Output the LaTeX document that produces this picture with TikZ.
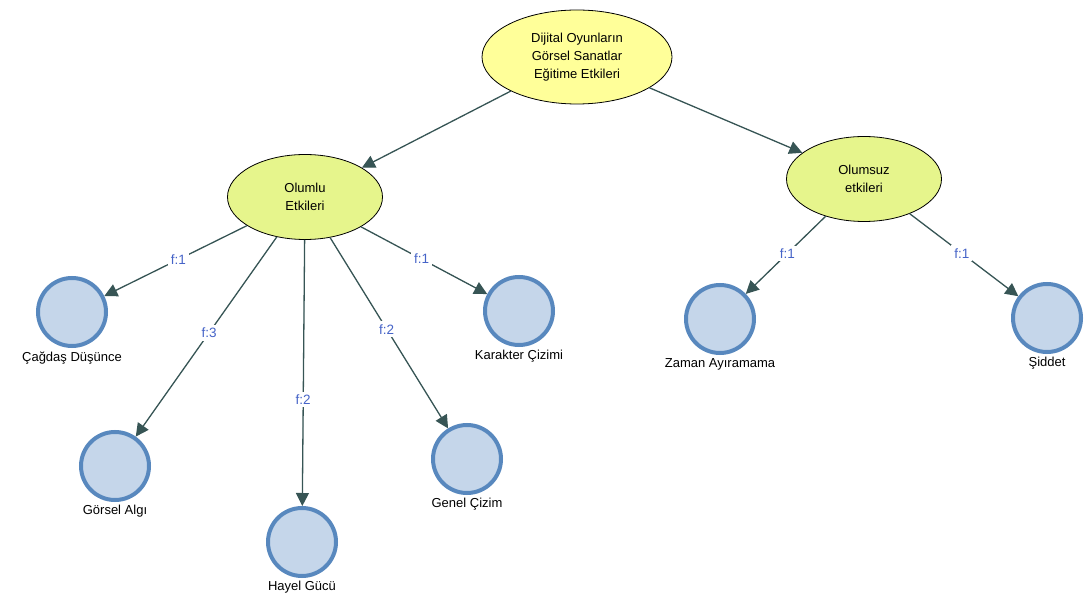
\documentclass[tikz,border=0pt]{standalone}
\usepackage{fontspec}
\setmainfont{Liberation Sans}
\usetikzlibrary{shapes.geometric,arrows.meta}
\definecolor{rootyellow}{RGB}{255,255,153}
\definecolor{subgreen}{RGB}{230,245,140}
\definecolor{leaffill}{RGB}{197,214,234}
\definecolor{leafline}{RGB}{88,136,190}
\definecolor{edgecol}{RGB}{55,85,85}
\definecolor{lblblue}{RGB}{70,100,200}

\begin{document}
\begin{tikzpicture}[x=1pt,y=-1pt,
  rootnode/.style={ellipse,draw,line width=0.8pt,fill=rootyellow,minimum width=190pt,minimum height=94pt,align=center,font=\fontsize{13}{18}\selectfont},
  midnode/.style={ellipse,draw,line width=0.8pt,fill=subgreen,minimum width=155pt,minimum height=85pt,align=center,font=\fontsize{13}{18}\selectfont},
  leaf/.style={circle,draw=leafline,line width=4pt,fill=leaffill,minimum size=68pt},
  every label/.style={font=\fontsize{13}{15}\selectfont},
  arr/.style={-{Triangle[length=13pt,width=13pt]},draw=edgecol,fill=edgecol,line width=1.3pt},
  flab/.style={fill=white,text=lblblue,font=\fontsize{13.5}{15}\selectfont,pos=0.48,inner sep=3pt}]
  \useasboundingbox (0,0) rectangle (1087,601);

  \node[rootnode] (root) at (577,57) {Dijital Oyunların\\Görsel Sanatlar\\Eğitime Etkileri};
  \node[midnode] (pos) at (305,197) {Olumlu\\Etkileri};
  \node[midnode] (neg) at (864,179) {Olumsuz\\etkileri};

  \node[leaf,label=below:Çağdaş Düşünce] (p1) at (72,312) {};
  \node[leaf,label=below:Görsel Algı] (p2) at (115,466) {};
  \node[leaf,label=below:Hayel Gücü] (p3) at (302,542) {};
  \node[leaf,label=below:Genel Çizim] (p4) at (467,459) {};
  \node[leaf,label=below:Karakter Çizimi] (p5) at (519,311) {};

  \node[leaf,label=below:Zaman Ayıramama] (n1) at (720,319) {};
  \node[leaf,label=below:Şiddet] (n2) at (1047,318) {};

  \draw[arr] (root) -- (pos);
  \draw[arr] (root) -- (neg);

  \draw[arr] (pos) -- node[flab] {f:1} (p1);
  \draw[arr] (pos) -- node[flab] {f:3} (p2);
  \draw[arr] (pos) -- node[flab,pos=0.6] {f:2} (p3);
  \draw[arr] (pos) -- node[flab] {f:2} (p4);
  \draw[arr] (pos) -- node[flab] {f:1} (p5);

  \draw[arr] (neg) -- node[flab] {f:1} (n1);
  \draw[arr] (neg) -- node[flab] {f:1} (n2);
\end{tikzpicture}
\end{document}
